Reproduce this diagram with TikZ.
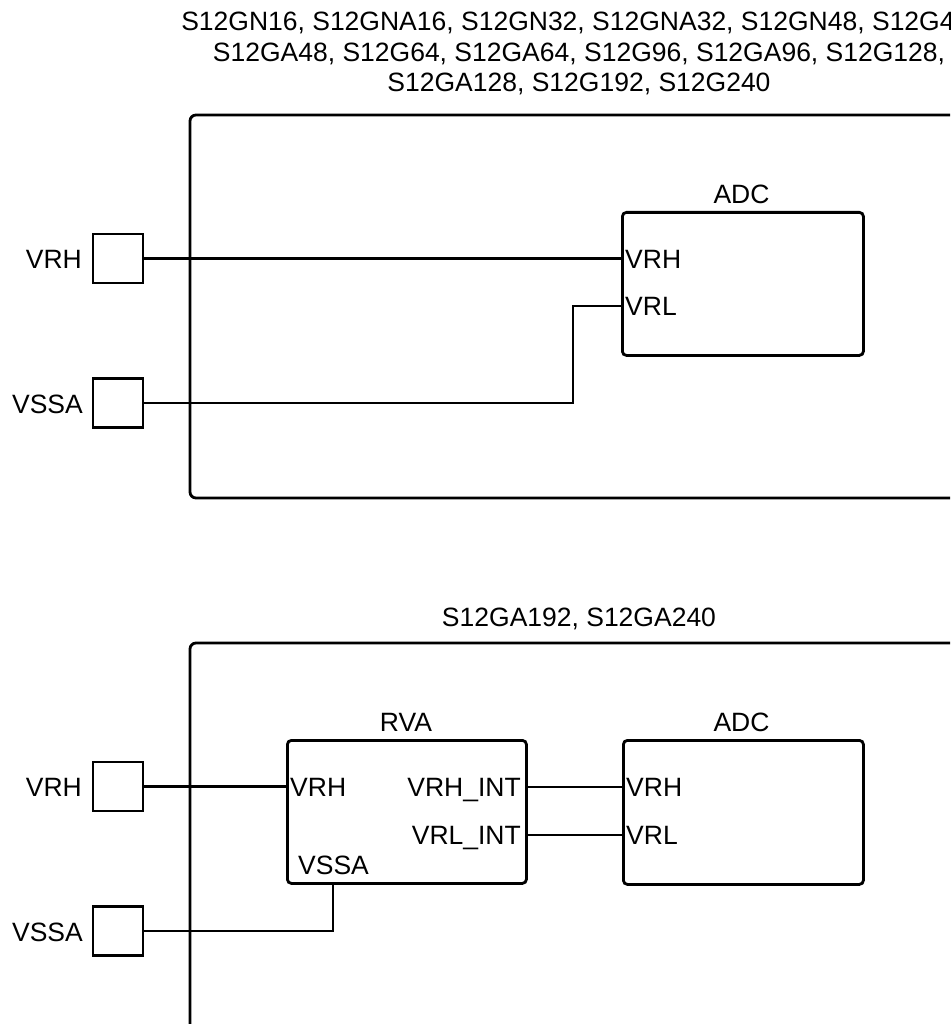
\documentclass[tikz,border=0pt]{standalone}
\usepackage{fontspec}
\setmainfont{Liberation Sans}
\begin{document}
\begin{tikzpicture}[x=1pt,y=-1pt,
  every node/.style={inner sep=0pt, font=\fontsize{26.5}{30.5}\selectfont},
  wire/.style={line width=2.8pt, line join=miter},
  outerbox/.style={draw, line width=2.8pt, rounded corners=6pt},
  blockbox/.style={draw, line width=2.8pt, rounded corners=4pt, rectangle, anchor=north west},
  padbox/.style={draw, line width=2.8pt, rectangle, minimum width=50pt, minimum height=49pt},
  pinl/.style={anchor=base west},
  pinr/.style={anchor=base east},
  titletext/.style={anchor=base}]
\clip (0,0) rectangle (950,1024);
% ---------- top part ----------
\node[align=center, anchor=north] (title1) at (579,12)
  {S12GN16, S12GNA16, S12GN32, S12GNA32, S12GN48, S12G48,\\
   S12GA48, S12G64, S12GA64, S12G96, S12GA96, S12G128,\\
   S12GA128, S12G192, S12G240};
\draw[outerbox] (190,115) rectangle (968,498);
\node[blockbox, minimum width=241pt, minimum height=143pt] (adcA) at (621,211) {};
\node[titletext] (adcAlbl) at (741.5,203.5) {ADC};
\node[pinl] (adcAvrh) at (625,268.5) {VRH};
\node[pinl] (adcAvrl) at (625,315.5) {VRL};
\node[padbox] (padAvrh) at (118,258.5) {};
\node[pinr] (padAvrhlbl) at (82,268.5) {VRH};
\node[padbox] (padAvssa) at (118,403) {};
\node[pinr] (padAvssalbl) at (83,413) {VSSA};
\coordinate (jA) at (573,306);
\draw[wire] (padAvrh.east) -- (padAvrh.east -| adcA.west);
\draw[wire] (padAvssa.east) -- (padAvssa.east -| jA) -- (jA) -- (jA -| adcA.west);
% ---------- bottom part ----------
\node[titletext] (title2) at (579,626.5) {S12GA192, S12GA240};
\draw[outerbox] (190,643) rectangle (968,1060);
\node[blockbox, minimum width=239pt, minimum height=143pt] (rva) at (286,739) {};
\node[titletext] (rvalbl) at (406,731.5) {RVA};
\node[pinl] (rvavrh) at (290,796.5) {VRH};
\node[pinr] (rvavrhint) at (521,796.5) {VRH\_INT};
\node[pinr] (rvavrlint) at (521,844.5) {VRL\_INT};
\node[pinl] (rvavssa) at (298,874.5) {VSSA};
\node[blockbox, minimum width=240pt, minimum height=144pt] (adcB) at (622,739) {};
\node[titletext] (adcBlbl) at (741.5,731.5) {ADC};
\node[pinl] (adcBvrh) at (626,796.5) {VRH};
\node[pinl] (adcBvrl) at (626,844.5) {VRL};
\node[padbox] (padBvrh) at (118,786.5) {};
\node[pinr] (padBvrhlbl) at (82,796.5) {VRH};
\node[padbox] (padBvssa) at (118,931) {};
\node[pinr] (padBvssalbl) at (83,941) {VSSA};
\coordinate (rvaVrhIntPin) at (525,787);
\coordinate (rvaVrlIntPin) at (525,835);
\coordinate (rvaVssaPin) at (333,882);
\draw[wire] (padBvrh.east) -- (padBvrh.east -| rva.west);
\draw[wire] (rvaVrhIntPin) -- (rvaVrhIntPin -| adcB.west);
\draw[wire] (rvaVrlIntPin) -- (rvaVrlIntPin -| adcB.west);
\draw[wire] (rva.south -| rvaVssaPin) -- (rvaVssaPin |- padBvssa.east) -- (padBvssa.east);
\end{tikzpicture}
\end{document}
